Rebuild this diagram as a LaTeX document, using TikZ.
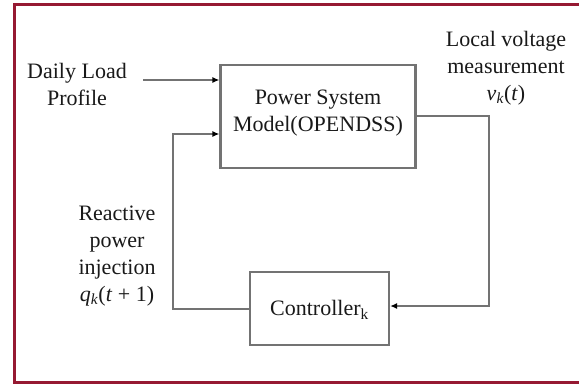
\documentclass[tikz,border=0pt]{standalone}
\usepackage{fontspec}
\setmainfont{Liberation Serif}
\usetikzlibrary{arrows.meta}
\definecolor{framered}{RGB}{150,25,50}
\definecolor{linegray}{RGB}{115,115,115}
\newcommand{\itvar}[1]{\textit{#1}}
\begin{document}
\begin{tikzpicture}[x=1pt,y=-1pt,
  blockbox/.style={draw=linegray,line width=2.2pt,inner sep=0pt},
  wire/.style={draw=linegray,line width=2.2pt},
  tip/.style={-{Latex[length=7pt,width=6pt,color=black]}},
  lbl/.style={font=\fontsize{22}{27}\selectfont,align=center,text=black!90,inner sep=0pt}]
\useasboundingbox (0,0) rectangle (579,386);
\fill[white] (0,0) rectangle (579,386);
% outer frame, open on the right
\draw[framered,line width=3pt] (579,4.5) -- (14.5,4.5) -- (14.5,382.5) -- (579,382.5);

% blocks
\node[blockbox,minimum width=195pt,minimum height=103pt] (psm) at (318,116.5) {};
\node[lbl] (psmtxt) at (318,113) {Power System\\Model(OPENDSS)};
\node[blockbox,minimum width=139pt,minimum height=73pt] (ctrl) at (319.5,308.5) {};
\node[lbl] (ctrltxt) at (319.5,310) {Controller\textsubscript{k}};

% labels
\node[lbl] (load) at (77,84) {Daily Load\\Profile};
\node[lbl] (volt) at (506,68) {Local voltage\\measurement\\\itvar{v}\textsubscript{\itvar{k}}(\itvar{t})};
\node[lbl] (react) at (117,256) {Reactive\\power\\injection\\\itvar{q}\textsubscript{\itvar{k}}(\itvar{t} + 1)};

% connectors
\coordinate (ldstart) at (143,80);
\coordinate (psmin) at (psm.west |- 0,80);
\draw[wire,tip] (ldstart) -- (psmin);

\coordinate (psmout) at (psm.east |- 0,116);
\coordinate (rc1) at (489,116);
\coordinate (rc2) at (489,306);
\coordinate (ctrlin) at (ctrl.east |- 0,306);
\draw[wire,tip] (psmout) -- (rc1) -- (rc2) -- (ctrlin);

\coordinate (ctrlout) at (ctrl.west |- 0,309);
\coordinate (lc1) at (173,309);
\coordinate (lc2) at (173,134);
\coordinate (psmfb) at (psm.west |- 0,134);
\draw[wire,tip] (ctrlout) -- (lc1) -- (lc2) -- (psmfb);
\end{tikzpicture}
\end{document}
